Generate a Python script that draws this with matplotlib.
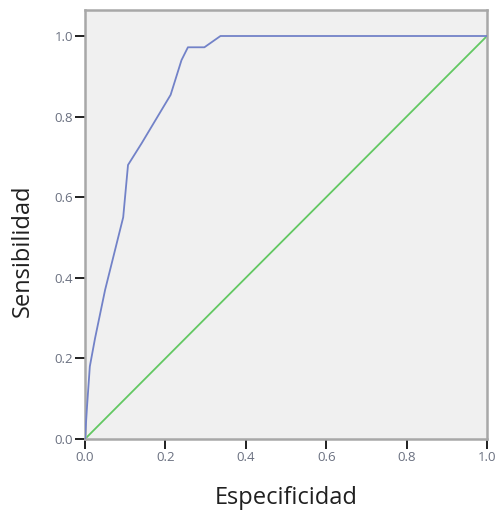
import numpy as np
import matplotlib.pyplot as plt

# curva ROC (1 - especificidad en el eje x, como en la salida de SPSS)
fpr = [0.0, 0.005, 0.012, 0.025, 0.05, 0.095, 0.107, 0.141, 0.213, 0.24, 0.256, 0.297, 0.337, 1.0]
tpr = [0.0, 0.08, 0.18, 0.25, 0.37, 0.55, 0.68, 0.734, 0.854, 0.94, 0.972, 0.972, 1.0, 1.0]
ref = [0.0, 1.0]

ticks = [0.0, 0.2, 0.4, 0.6, 0.8, 1.0]
tick_labels = ['0.0', '0.2', '0.4', '0.6', '0.8', '1.0']

plt.rcParams['font.family'] = ['Open Sans', 'DejaVu Sans']

fig = plt.figure(figsize=(5.03, 5.12), dpi=100)
ax = fig.add_axes([85 / 503, 73 / 512, 402 / 503, 429 / 512])
ax.set_facecolor('#f0f0f0')

ax.plot(fpr, tpr, color='#7282c8', lw=1.3, zorder=3)
ax.plot(ref, ref, color='#62c862', lw=1.3, zorder=2)

ax.set_xlim(0, 1)
ax.set_ylim(0, 429 / 403)

for s in ax.spines.values():
    s.set_color('#a8a8a8')
    s.set_linewidth(1.8)

ax.set_xticks(ticks)
ax.set_xticklabels(tick_labels)
ax.set_yticks(ticks)
ax.set_yticklabels(tick_labels)
ax.tick_params(direction='out', length=7, width=1.4, color='#202020',
               labelsize=9.5, labelcolor='#6a7080', pad=1.5)

ax.set_xlabel('Especificidad', fontsize=17, color='#202020')
ax.set_ylabel('Sensibilidad', fontsize=17, color='#202020')
ax.xaxis.label.set_va('center')
ax.yaxis.label.set_va('center')
ax.xaxis.set_label_coords(0.5, -(498 - 439) / 429)
ax.yaxis.set_label_coords(-(85 - 23) / 402, (439 - 251) / 429)

fig.savefig('out.png', dpi=100, facecolor='white')
